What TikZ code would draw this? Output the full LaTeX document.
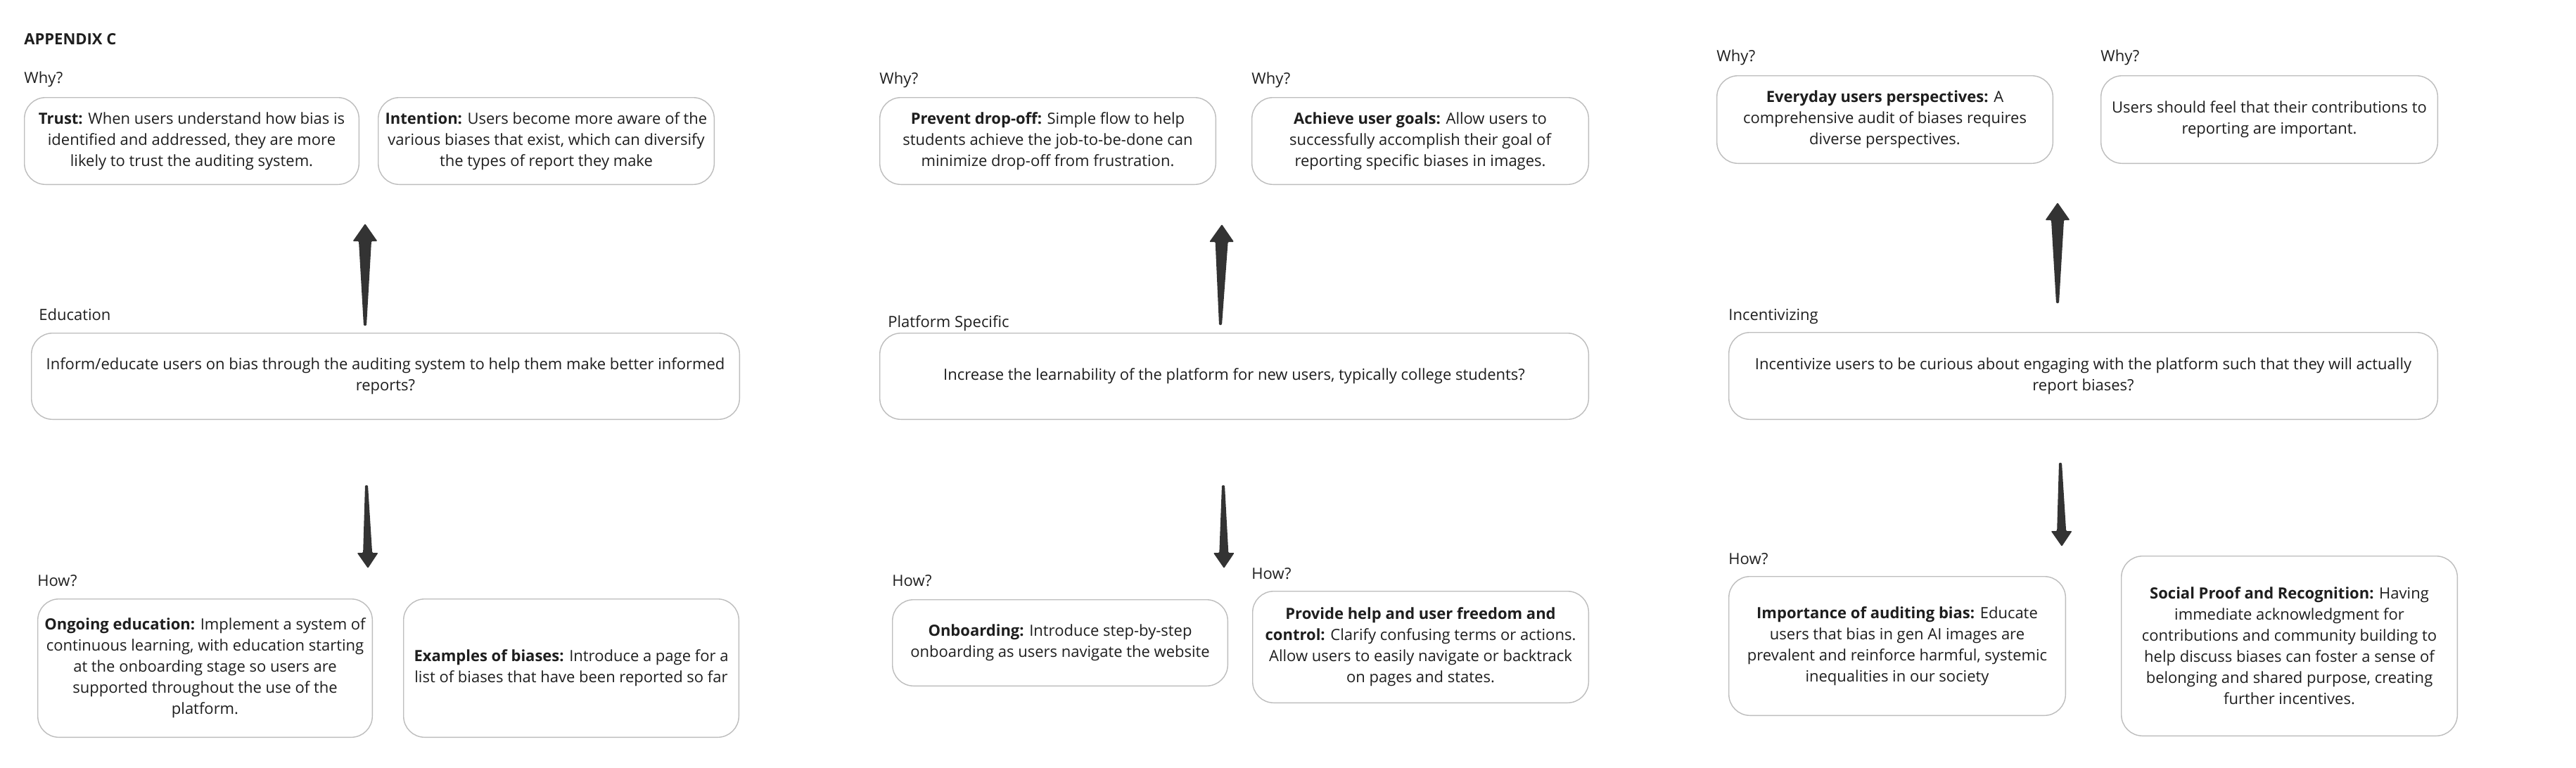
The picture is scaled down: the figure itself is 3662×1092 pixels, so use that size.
\documentclass[tikz,border=0pt]{standalone}
\usepackage{fontspec}
\setmainfont{Open Sans}
\usetikzlibrary{calc}
\definecolor{boxline}{HTML}{BDBDBD}
\definecolor{arrowgray}{HTML}{333333}
\definecolor{txt}{HTML}{1E1E1E}
\tikzset{
  cbox/.style={draw=boxline, line width=0.7pt, rounded corners=15pt, fill=white,
    align=center, inner sep=0pt, text=txt,
    font=\fontsize{11pt}{15pt}\selectfont},
  lbl/.style={anchor=base west, inner sep=0pt, text=txt,
    font=\fontsize{11pt}{15pt}\selectfont},
  arrowfill/.style={fill=arrowgray, rounded corners=0.6pt}
}
% box from (x1,y1) to (x2,y2) in px
\newcommand\bx[6]{%
  \node[cbox, minimum width={(#4-#2-1.4)*0.5pt}, minimum height={(#5-#3-1.4)*0.5pt}]
    (#1) at ({(#2+#4)/2},{(#3+#5)/2}) {#6};}
% tapered arrow: tail, tip, head length (pt), head half width (px), shaft half width (px)
\newcommand\taperarrow[5]{%
  \coordinate (#1-hb) at ($(#2)!#3!(#1)$);
  \fill[arrowfill] ($(#1)+(-2,0)$) -- ($(#1-hb)+(-#5,0)$) -- ($(#1-hb)+(-#4,0)$)
    -- (#2) -- ($(#1-hb)+(#4,0)$) -- ($(#1-hb)+(#5,0)$) -- ($(#1)+(2,0)$) -- cycle;}
\begin{document}
\begin{tikzpicture}[x=0.5pt,y=-0.5pt]
\useasboundingbox[fill=white] (0,0) rectangle (3662,1092);

% ---------- Column 1 ----------
\node[lbl, font=\bfseries\fontsize{11pt}{15pt}\selectfont] (appx) at (34,63) {APPENDIX C};
\node[lbl] (why1) at (34,118) {Why?};
\bx{trust}{34}{138}{511}{263}{\textbf{Trust:} When users understand how bias is\\identified and addressed, they are more\\likely to trust the auditing system.}
\bx{intent}{537}{138}{1016}{263}{\textbf{Intention:} Users become more aware of the\\various biases that exist, which can diversify\\the types of report they make}
\node[lbl] (edulbl) at (55,455) {Education};
\bx{edu}{44}{473}{1052}{597}{Inform/educate users on bias through the auditing system to help them make better informed\\reports?}
\node[lbl] (how1) at (53,833) {How?};
\bx{ongoing}{53}{851}{530}{1049}{\textbf{Ongoing education:} Implement a system of\\continuous learning, with education starting\\at the onboarding stage so users are\\supported throughout the use of the\\platform.}
\bx{examples}{573}{851}{1051}{1049}{\textbf{Examples of biases:} Introduce a page for a\\list of biases that have been reported so far}
\coordinate (a1t) at (519,463); \coordinate (a1h) at (519,318);
\taperarrow{a1t}{a1h}{12.5pt}{17.5}{9}
\coordinate (a2t) at (521,690); \coordinate (a2h) at (523,808);
\taperarrow{a2t}{a2h}{11pt}{15}{6.5}

% ---------- Column 2 ----------
\node[lbl] (why2) at (1250,119) {Why?};
\node[lbl] (why3) at (1779,119) {Why?};
\bx{prevent}{1250}{138}{1729}{263}{\textbf{Prevent drop-off:} Simple flow to help\\students achieve the job-to-be-done can\\minimize drop-off from frustration.}
\bx{achieve}{1779}{138}{2259}{263}{\textbf{Achieve user goals:} Allow users to\\successfully accomplish their goal of\\reporting specific biases in images.}
\node[lbl] (platlbl) at (1262,465) {Platform Specific};
\bx{plat}{1250}{473}{2259}{597}{Increase the learnability of the platform for new users, typically college students?}
\node[lbl] (how2) at (1268,833) {How?};
\node[lbl] (how3) at (1779,823) {How?};
\bx{onboard}{1268}{852}{1746}{976}{\textbf{Onboarding:} Introduce step-by-step\\onboarding as users navigate the website}
\bx{provide}{1780}{840}{2259}{1000}{\textbf{Provide help and user freedom and}\\\textbf{control:} Clarify confusing terms or actions.\\Allow users to easily navigate or backtrack\\on pages and states.}
\coordinate (a3t) at (1735,462); \coordinate (a3h) at (1737,319);
\taperarrow{a3t}{a3h}{12.5pt}{17.5}{9}
\coordinate (a4t) at (1739,690); \coordinate (a4h) at (1740,808);
\taperarrow{a4t}{a4h}{11pt}{15}{6.5}

% ---------- Column 3 ----------
\node[lbl] (why4) at (2440,87) {Why?};
\node[lbl] (why5) at (2986,87) {Why?};
\bx{everyday}{2440}{107}{2919}{233}{\textbf{Everyday users perspectives:} A\\comprehensive audit of biases requires\\diverse perspectives.}
\bx{feel}{2986}{107}{3466}{233}{Users should feel that their contributions to\\reporting are important.}
\node[lbl] (inclbl) at (2457,455) {Incentivizing};
\bx{incent}{2457}{472}{3466}{597}{Incentivize users to be curious about engaging with the platform such that they will actually\\report biases?}
\node[lbl] (how4) at (2457,802) {How?};
\bx{importance}{2457}{819}{2937}{1018}{\textbf{Importance of auditing bias:} Educate\\users that bias in gen AI images are\\prevalent and reinforce harmful, systemic\\inequalities in our society}
\bx{social}{3015}{790}{3494}{1047}{\textbf{Social Proof and Recognition:} Having\\immediate acknowledgment for\\contributions and community building to\\help discuss biases can foster a sense of\\belonging and shared purpose, creating\\further incentives.}
\coordinate (a5t) at (2925,431); \coordinate (a5h) at (2925,288);
\taperarrow{a5t}{a5h}{12.5pt}{17.5}{9}
\coordinate (a6t) at (2929,658); \coordinate (a6h) at (2931,777);
\taperarrow{a6t}{a6h}{11pt}{15}{6.5}
\end{tikzpicture}
\end{document}
